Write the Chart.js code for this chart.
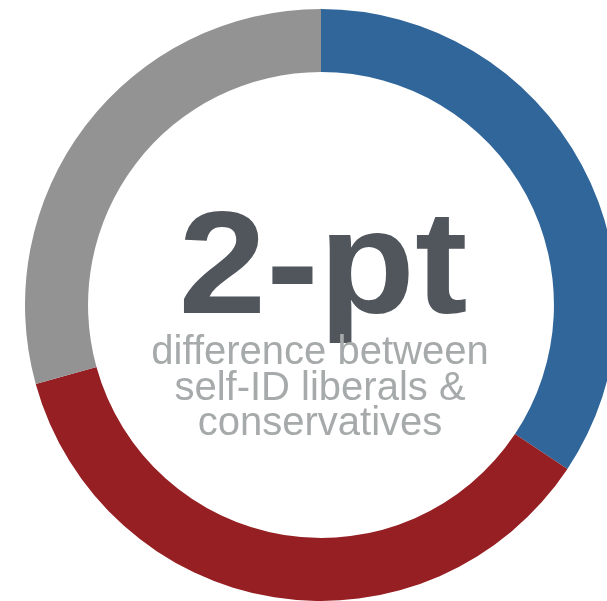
<!DOCTYPE html>
<html><head><meta charset="utf-8">
<script src="https://cdn.jsdelivr.net/npm/chart.js@4/dist/chart.umd.min.js"></script>
<style>
html,body{margin:0;padding:0;background:#fff;overflow:hidden;width:607px;height:601px}
#wrap{position:absolute;left:25px;top:9px;width:592px;height:592px}
</style>
</head><body>
<div id="wrap"><canvas id="c"></canvas></div>
<script>
const labels = ['Liberals', 'Conservatives', 'Other'];
const values = [34, 36, 29];
const colors = ['#31669a', '#961f23', '#939393'];
const headline = '2-pt';
const subtitleLines = ['difference between', 'self-ID liberals &', 'conservatives'];

const centerText = {
  id: 'centerText',
  afterDraw(chart) {
    const ctx = chart.ctx;
    const meta = chart.getDatasetMeta(0);
    const arc = meta.data[0];
    const cx = arc.x, cy = arc.y;
    ctx.save();
    ctx.textAlign = 'center';
    ctx.textBaseline = 'alphabetic';
    // headline
    ctx.save();
    ctx.translate(cx + 2, cy + 8);
    ctx.scale(1.08, 1);
    ctx.fillStyle = '#51565d';
    ctx.font = 'bold 146px "Liberation Sans", Arial, sans-serif';
    ctx.fillText(headline, 0, 0);
    ctx.restore();
    // subtitle
    ctx.fillStyle = '#a6aaaa';
    ctx.font = '40px "Liberation Sans", Arial, sans-serif';
    const base = [59, 95, 130];
    subtitleLines.forEach((t, i) => {
      ctx.fillText(t, cx - 1, cy + base[i]);
    });
    ctx.restore();
  }
};

new Chart(document.getElementById('c'), {
  type: 'doughnut',
  data: {
    labels: labels,
    datasets: [{
      data: values,
      backgroundColor: colors,
      borderWidth: 0,
      hoverOffset: 0
    }]
  },
  options: {
    responsive: true,
    maintainAspectRatio: false,
    animation: false,
    cutout: '78.7%',
    layout: { padding: 0 },
    plugins: { legend: { display: false }, tooltip: { enabled: false } },
    events: []
  },
  plugins: [centerText]
});
</script>
</body></html>
